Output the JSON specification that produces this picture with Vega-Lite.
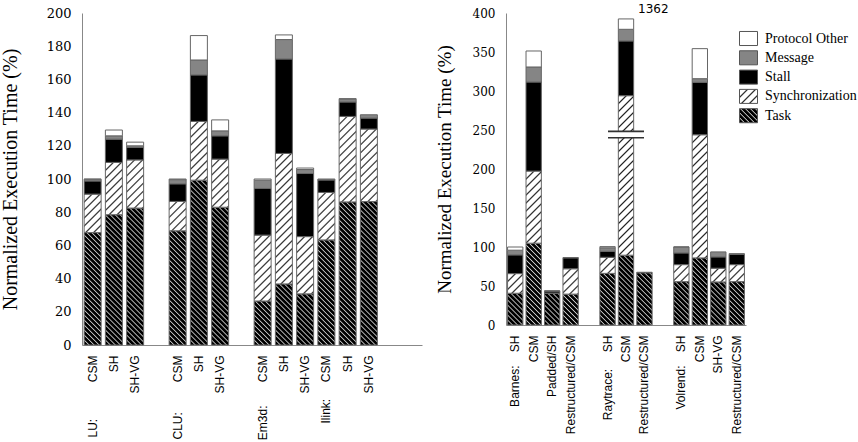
{
  "$schema": "https://vega.github.io/schema/vega-lite/v6.json",
  "padding": {"left": 0, "top": 2, "right": 0, "bottom": 0},
  "config": {
    "view": {"stroke": null},
    "axis": {"domainColor": "#888888", "domainWidth": 1, "ticks": false, "grid": false, "labelOverlap": false, "labelColor": "#000000", "titleColor": "#000000", "titleFontWeight": "normal"}
  },
  "params": [
    {"name": "taskStops", "value": [
      {"offset":0,"color":"#ccc"},{"offset":0.006,"color":"#000"},{"offset":0.019,"color":"#000"},
      {"offset":0.025,"color":"#ccc"},{"offset":0.031,"color":"#000"},{"offset":0.044,"color":"#000"},
      {"offset":0.05,"color":"#ccc"},{"offset":0.056,"color":"#000"},{"offset":0.069,"color":"#000"},
      {"offset":0.075,"color":"#ccc"},{"offset":0.081,"color":"#000"},{"offset":0.094,"color":"#000"},
      {"offset":0.1,"color":"#ccc"},{"offset":0.106,"color":"#000"},{"offset":0.119,"color":"#000"},
      {"offset":0.125,"color":"#ccc"},{"offset":0.131,"color":"#000"},{"offset":0.144,"color":"#000"},
      {"offset":0.15,"color":"#ccc"},{"offset":0.156,"color":"#000"},{"offset":0.169,"color":"#000"},
      {"offset":0.175,"color":"#ccc"},{"offset":0.181,"color":"#000"},{"offset":0.194,"color":"#000"},
      {"offset":0.2,"color":"#ccc"},{"offset":0.206,"color":"#000"},{"offset":0.219,"color":"#000"},
      {"offset":0.225,"color":"#ccc"},{"offset":0.231,"color":"#000"},{"offset":0.244,"color":"#000"},
      {"offset":0.25,"color":"#ccc"},{"offset":0.256,"color":"#000"},{"offset":0.269,"color":"#000"},
      {"offset":0.275,"color":"#ccc"},{"offset":0.281,"color":"#000"},{"offset":0.294,"color":"#000"},
      {"offset":0.3,"color":"#ccc"},{"offset":0.306,"color":"#000"},{"offset":0.319,"color":"#000"},
      {"offset":0.325,"color":"#ccc"},{"offset":0.331,"color":"#000"},{"offset":0.344,"color":"#000"},
      {"offset":0.35,"color":"#ccc"},{"offset":0.356,"color":"#000"},{"offset":0.369,"color":"#000"},
      {"offset":0.375,"color":"#ccc"},{"offset":0.381,"color":"#000"},{"offset":0.394,"color":"#000"},
      {"offset":0.4,"color":"#ccc"},{"offset":0.406,"color":"#000"},{"offset":0.419,"color":"#000"},
      {"offset":0.425,"color":"#ccc"},{"offset":0.431,"color":"#000"},{"offset":0.444,"color":"#000"},
      {"offset":0.45,"color":"#ccc"},{"offset":0.456,"color":"#000"},{"offset":0.469,"color":"#000"},
      {"offset":0.475,"color":"#ccc"},{"offset":0.481,"color":"#000"},{"offset":0.494,"color":"#000"},
      {"offset":0.5,"color":"#ccc"},{"offset":0.506,"color":"#000"},{"offset":0.519,"color":"#000"},
      {"offset":0.525,"color":"#ccc"},{"offset":0.531,"color":"#000"},{"offset":0.544,"color":"#000"},
      {"offset":0.55,"color":"#ccc"},{"offset":0.556,"color":"#000"},{"offset":0.569,"color":"#000"},
      {"offset":0.575,"color":"#ccc"},{"offset":0.581,"color":"#000"},{"offset":0.594,"color":"#000"},
      {"offset":0.6,"color":"#ccc"},{"offset":0.606,"color":"#000"},{"offset":0.619,"color":"#000"},
      {"offset":0.625,"color":"#ccc"},{"offset":0.631,"color":"#000"},{"offset":0.644,"color":"#000"},
      {"offset":0.65,"color":"#ccc"},{"offset":0.656,"color":"#000"},{"offset":0.669,"color":"#000"},
      {"offset":0.675,"color":"#ccc"},{"offset":0.681,"color":"#000"},{"offset":0.694,"color":"#000"},
      {"offset":0.7,"color":"#ccc"},{"offset":0.706,"color":"#000"},{"offset":0.719,"color":"#000"},
      {"offset":0.725,"color":"#ccc"},{"offset":0.731,"color":"#000"},{"offset":0.744,"color":"#000"},
      {"offset":0.75,"color":"#ccc"},{"offset":0.756,"color":"#000"},{"offset":0.769,"color":"#000"},
      {"offset":0.775,"color":"#ccc"},{"offset":0.781,"color":"#000"},{"offset":0.794,"color":"#000"},
      {"offset":0.8,"color":"#ccc"},{"offset":0.806,"color":"#000"},{"offset":0.819,"color":"#000"},
      {"offset":0.825,"color":"#ccc"},{"offset":0.831,"color":"#000"},{"offset":0.844,"color":"#000"},
      {"offset":0.85,"color":"#ccc"},{"offset":0.856,"color":"#000"},{"offset":0.869,"color":"#000"},
      {"offset":0.875,"color":"#ccc"},{"offset":0.881,"color":"#000"},{"offset":0.894,"color":"#000"},
      {"offset":0.9,"color":"#ccc"},{"offset":0.906,"color":"#000"},{"offset":0.919,"color":"#000"},
      {"offset":0.925,"color":"#ccc"},{"offset":0.931,"color":"#000"},{"offset":0.944,"color":"#000"},
      {"offset":0.95,"color":"#ccc"},{"offset":0.956,"color":"#000"},{"offset":0.969,"color":"#000"},
      {"offset":0.975,"color":"#ccc"},{"offset":0.981,"color":"#000"},{"offset":0.994,"color":"#000"},
      {"offset":1,"color":"#ccc"}
    ]},
    {"name": "syncStops", "value": [
      {"offset":0,"color":"#222"},{"offset":0.008,"color":"#fff"},{"offset":0.032,"color":"#fff"},
      {"offset":0.04,"color":"#222"},{"offset":0.048,"color":"#fff"},{"offset":0.072,"color":"#fff"},
      {"offset":0.08,"color":"#222"},{"offset":0.088,"color":"#fff"},{"offset":0.112,"color":"#fff"},
      {"offset":0.12,"color":"#222"},{"offset":0.128,"color":"#fff"},{"offset":0.152,"color":"#fff"},
      {"offset":0.16,"color":"#222"},{"offset":0.168,"color":"#fff"},{"offset":0.192,"color":"#fff"},
      {"offset":0.2,"color":"#222"},{"offset":0.208,"color":"#fff"},{"offset":0.232,"color":"#fff"},
      {"offset":0.24,"color":"#222"},{"offset":0.248,"color":"#fff"},{"offset":0.272,"color":"#fff"},
      {"offset":0.28,"color":"#222"},{"offset":0.288,"color":"#fff"},{"offset":0.312,"color":"#fff"},
      {"offset":0.32,"color":"#222"},{"offset":0.328,"color":"#fff"},{"offset":0.352,"color":"#fff"},
      {"offset":0.36,"color":"#222"},{"offset":0.368,"color":"#fff"},{"offset":0.392,"color":"#fff"},
      {"offset":0.4,"color":"#222"},{"offset":0.408,"color":"#fff"},{"offset":0.432,"color":"#fff"},
      {"offset":0.44,"color":"#222"},{"offset":0.448,"color":"#fff"},{"offset":0.472,"color":"#fff"},
      {"offset":0.48,"color":"#222"},{"offset":0.488,"color":"#fff"},{"offset":0.512,"color":"#fff"},
      {"offset":0.52,"color":"#222"},{"offset":0.528,"color":"#fff"},{"offset":0.552,"color":"#fff"},
      {"offset":0.56,"color":"#222"},{"offset":0.568,"color":"#fff"},{"offset":0.592,"color":"#fff"},
      {"offset":0.6,"color":"#222"},{"offset":0.608,"color":"#fff"},{"offset":0.632,"color":"#fff"},
      {"offset":0.64,"color":"#222"},{"offset":0.648,"color":"#fff"},{"offset":0.672,"color":"#fff"},
      {"offset":0.68,"color":"#222"},{"offset":0.688,"color":"#fff"},{"offset":0.712,"color":"#fff"},
      {"offset":0.72,"color":"#222"},{"offset":0.728,"color":"#fff"},{"offset":0.752,"color":"#fff"},
      {"offset":0.76,"color":"#222"},{"offset":0.768,"color":"#fff"},{"offset":0.792,"color":"#fff"},
      {"offset":0.8,"color":"#222"},{"offset":0.808,"color":"#fff"},{"offset":0.832,"color":"#fff"},
      {"offset":0.84,"color":"#222"},{"offset":0.848,"color":"#fff"},{"offset":0.872,"color":"#fff"},
      {"offset":0.88,"color":"#222"},{"offset":0.888,"color":"#fff"},{"offset":0.912,"color":"#fff"},
      {"offset":0.92,"color":"#222"},{"offset":0.928,"color":"#fff"},{"offset":0.952,"color":"#fff"},
      {"offset":0.96,"color":"#222"},{"offset":0.968,"color":"#fff"},{"offset":0.992,"color":"#fff"},
      {"offset":1,"color":"#222"}
    ]}
  ],
  "datasets": {
    "runsLeft": [
      {"key": "LU|LU:\u00a0\u00a0\u00a0\u00a0\u00a0\u00a0\u00a0\u00a0\u00a0\u00a0\u00a0CSM", "Task": 67.7, "Synchronization": 23.2, "Stall": 7.9, "Message": 1.0, "Protocol Other": 0.2},
      {"key": "LU|SH", "Task": 78.5, "Synchronization": 31.5, "Stall": 14.0, "Message": 2.0, "Protocol Other": 3.5},
      {"key": "LU|SH-VG", "Task": 82.5, "Synchronization": 29.0, "Stall": 7.5, "Message": 1.0, "Protocol Other": 2.2},
      {"key": "CLU|CLU:\u00a0\u00a0\u00a0\u00a0\u00a0\u00a0\u00a0\u00a0\u00a0CSM", "Task": 68.8, "Synchronization": 17.7, "Stall": 10.6, "Message": 2.5, "Protocol Other": 0.4},
      {"key": "CLU|SH", "Task": 99.3, "Synchronization": 35.4, "Stall": 28.0, "Message": 9.0, "Protocol Other": 14.7},
      {"key": "CLU|SH-VG", "Task": 83.0, "Synchronization": 29.0, "Stall": 14.0, "Message": 3.0, "Protocol Other": 6.6},
      {"key": "Em3d|Em3d:\u00a0\u00a0\u00a0\u00a0\u00a0\u00a0\u00a0CSM", "Task": 26.5, "Synchronization": 39.7, "Stall": 28.1, "Message": 5.0, "Protocol Other": 0.7},
      {"key": "Em3d|SH", "Task": 36.8, "Synchronization": 78.6, "Stall": 56.9, "Message": 11.7, "Protocol Other": 2.8},
      {"key": "Em3d|SH-VG", "Task": 30.8, "Synchronization": 34.5, "Stall": 38.0, "Message": 2.4, "Protocol Other": 0.9},
      {"key": "Ilink|Ilink:\u00a0\u00a0\u00a0\u00a0\u00a0CSM", "Task": 63.3, "Synchronization": 28.6, "Stall": 7.5, "Message": 0.6, "Protocol Other": 0},
      {"key": "Ilink|SH", "Task": 86.2, "Synchronization": 51.5, "Stall": 8.7, "Message": 1.7, "Protocol Other": 0.3},
      {"key": "Ilink|SH-VG", "Task": 86.4, "Synchronization": 43.7, "Stall": 6.6, "Message": 2.0, "Protocol Other": 0}
    ],
    "runsRight": [
      {"key": "Barnes|Barnes:\u00a0\u00a0\u00a0\u00a0SH", "Task": 40.7, "Synchronization": 25.2, "Stall": 24.0, "Message": 6.0, "Protocol Other": 4.1},
      {"key": "Barnes|CSM", "Task": 104.9, "Synchronization": 92.4, "Stall": 114.2, "Message": 19.3, "Protocol Other": 20.5},
      {"key": "Barnes|Padded/SH", "Task": 40.5, "Synchronization": 0.5, "Stall": 2.5, "Message": 0.3, "Protocol Other": 0},
      {"key": "Barnes|Restructured/CSM", "Task": 39.6, "Synchronization": 32.5, "Stall": 14.0, "Message": 0.3, "Protocol Other": 0},
      {"key": "Raytrace|Raytrace:\u00a0\u00a0\u00a0\u00a0\u00a0SH", "Task": 66.2, "Synchronization": 20.6, "Stall": 7.7, "Message": 4.5, "Protocol Other": 1.5},
      {"key": "Raytrace|CSM", "Task": 89.5, "Synchronization": 204.5, "Stall": 70.2, "Message": 14.9, "Protocol Other": 13.3, "Total": 1362},
      {"key": "Raytrace|Restructured/CSM", "Task": 67.0, "Synchronization": 0, "Stall": 0.6, "Message": 0, "Protocol Other": 0},
      {"key": "Volrend|Volrend:\u00a0\u00a0\u00a0\u00a0SH", "Task": 55.6, "Synchronization": 21.8, "Stall": 15.0, "Message": 7.5, "Protocol Other": 0.2},
      {"key": "Volrend|CSM", "Task": 86.0, "Synchronization": 157.9, "Stall": 67.2, "Message": 4.7, "Protocol Other": 38.5},
      {"key": "Volrend|SH-VG", "Task": 55.2, "Synchronization": 17.6, "Stall": 14.5, "Message": 6.4, "Protocol Other": 0},
      {"key": "Volrend|Restructured/CSM", "Task": 55.6, "Synchronization": 21.8, "Stall": 13.0, "Message": 1.1, "Protocol Other": 0}
    ],
    "breaks": [
      {"key": "Raytrace|CSM", "lo": 240.1, "hi": 248.2}
    ]
  },
  "resolve": {"legend": {"fill": "independent"}},
  "spacing": 13,
  "hconcat": [
    {
      "width": 340,
      "height": 332,
      "data": {"name": "runsLeft"},
      "transform": [
        {"fold": ["Task", "Synchronization", "Stall", "Message", "Protocol Other"], "as": ["part", "value"]},
        {"filter": "datum.value > 0"},
        {"stack": "value", "groupby": ["key"], "as": ["v0", "v1"]}
      ],
      "mark": {
        "type": "bar",
        "stroke": "#666666",
        "strokeWidth": 1,
        "fill": {"expr": "datum.part === 'Task' ? {gradient: 'linear', x1: 0, y1: 1, x2: 3400 / (289 + pow(datum.value * 1.66, 2)), y2: 1 - 200 * datum.value * 1.66 / (289 + pow(datum.value * 1.66, 2)), stops: taskStops} : datum.part === 'Synchronization' ? {gradient: 'linear', x1: 0, y1: 0, x2: 3400 / (289 + pow(datum.value * 1.66, 2)), y2: 200 * datum.value * 1.66 / (289 + pow(datum.value * 1.66, 2)), stops: syncStops} : datum.part === 'Stall' ? '#000000' : datum.part === 'Message' ? '#858585' : '#ffffff'"}
      },
      "encoding": {
        "x": {
          "field": "key", "type": "nominal", "sort": null,
          "scale": {
            "domain": ["LU|LU:\u00a0\u00a0\u00a0\u00a0\u00a0\u00a0\u00a0\u00a0\u00a0\u00a0\u00a0CSM", "LU|SH", "LU|SH-VG", "gap1|", "CLU|CLU:\u00a0\u00a0\u00a0\u00a0\u00a0\u00a0\u00a0\u00a0\u00a0CSM", "CLU|SH", "CLU|SH-VG", "gap2|", "Em3d|Em3d:\u00a0\u00a0\u00a0\u00a0\u00a0\u00a0\u00a0CSM", "Em3d|SH", "Em3d|SH-VG", "Ilink|Ilink:\u00a0\u00a0\u00a0\u00a0\u00a0CSM", "Ilink|SH", "Ilink|SH-VG", "gap3|", "gap4|"],
            "paddingInner": 0.2, "paddingOuter": 0.1
          },
          "axis": {"title": null, "labelAngle": -90, "labelFont": "Liberation Sans", "labelFontSize": 12, "labelPadding": 10, "labelExpr": "substring(datum.value, indexof(datum.value, '|') + 1)"}
        },
        "y": {
          "field": "v1", "type": "quantitative",
          "scale": {"domain": [0, 200], "nice": false},
          "axis": {"title": "Normalized Execution Time (%)", "titleFont": "Liberation Serif", "titleFontSize": 20, "titlePadding": 26, "labelFont": "DejaVu Serif", "labelFontSize": 13, "labelPadding": 11, "values": [0, 20, 40, 60, 80, 100, 120, 140, 160, 180, 200]}
        },
        "y2": {"field": "v0"}
      }
    },
    {
      "width": 240,
      "height": 312,
      "resolve": {"legend": {"fill": "independent"}},
      "layer": [
        {
          "data": {"name": "runsRight"},
          "transform": [
            {"fold": ["Task", "Synchronization", "Stall", "Message", "Protocol Other"], "as": ["part", "value"]},
            {"filter": "datum.value > 0"},
            {"stack": "value", "groupby": ["key"], "as": ["v0", "v1"]}
          ],
          "mark": {
            "type": "bar",
            "stroke": "#666666",
            "strokeWidth": 1,
            "fill": {"expr": "datum.part === 'Task' ? {gradient: 'linear', x1: 0, y1: 1, x2: 3064 / (234.7 + pow(datum.value * 0.78, 2)), y2: 1 - 200 * datum.value * 0.78 / (234.7 + pow(datum.value * 0.78, 2)), stops: taskStops} : datum.part === 'Synchronization' ? {gradient: 'linear', x1: 0, y1: 0, x2: 3064 / (234.7 + pow(datum.value * 0.78, 2)), y2: 200 * datum.value * 0.78 / (234.7 + pow(datum.value * 0.78, 2)), stops: syncStops} : datum.part === 'Stall' ? '#000000' : datum.part === 'Message' ? '#858585' : '#ffffff'"}
          },
          "encoding": {
            "x": {
              "field": "key", "type": "nominal", "sort": null,
              "scale": {
                "domain": ["Barnes|Barnes:\u00a0\u00a0\u00a0\u00a0SH", "Barnes|CSM", "Barnes|Padded/SH", "Barnes|Restructured/CSM", "gap1|", "Raytrace|Raytrace:\u00a0\u00a0\u00a0\u00a0\u00a0SH", "Raytrace|CSM", "Raytrace|Restructured/CSM", "gap2|", "Volrend|Volrend:\u00a0\u00a0\u00a0\u00a0SH", "Volrend|CSM", "Volrend|SH-VG", "Volrend|Restructured/CSM"],
                "paddingInner": 0.17, "paddingOuter": 0.085
              },
              "axis": {"title": null, "labelAngle": -90, "labelFont": "Liberation Sans", "labelFontSize": 12, "labelPadding": 10, "labelExpr": "substring(datum.value, indexof(datum.value, '|') + 1)"}
            },
            "y": {
              "field": "v1", "type": "quantitative",
              "scale": {"domain": [0, 400], "nice": false},
              "axis": {"title": "Normalized Execution Time (%)", "titleFont": "Liberation Serif", "titleFontSize": 19, "titlePadding": 18, "labelFont": "DejaVu Serif", "labelFontSize": 12, "labelPadding": 11, "tickCount": 9, "values": [0, 50, 100, 150, 200, 250, 300, 350, 400]}
            },
            "y2": {"field": "v0"}
          }
        },
        {
          "data": {"name": "breaks"},
          "mark": {"type": "bar", "width": 36, "fill": "#ffffff", "stroke": null},
          "encoding": {
            "x": {"field": "key", "type": "nominal", "axis": {"title": null}},
            "y": {"field": "lo", "type": "quantitative", "axis": {"title": "Normalized Execution Time (%)", "values": [0, 50, 100, 150, 200, 250, 300, 350, 400]}},
            "y2": {"field": "hi"}
          }
        },
        {
          "data": {"name": "breaks"},
          "mark": {"type": "tick", "size": 36, "thickness": 1.6, "color": "#333333", "opacity": 1},
          "encoding": {
            "x": {"field": "key", "type": "nominal", "axis": {"title": null}},
            "y": {"field": "lo", "type": "quantitative", "axis": {"title": "Normalized Execution Time (%)", "values": [0, 50, 100, 150, 200, 250, 300, 350, 400]}}
          }
        },
        {
          "data": {"name": "breaks"},
          "mark": {"type": "tick", "size": 36, "thickness": 1.6, "color": "#333333", "opacity": 1},
          "encoding": {
            "x": {"field": "key", "type": "nominal", "axis": {"title": null}},
            "y": {"field": "hi", "type": "quantitative", "axis": {"title": "Normalized Execution Time (%)", "values": [0, 50, 100, 150, 200, 250, 300, 350, 400]}}
          }
        },
        {
          "data": {"name": "runsRight"},
          "transform": [
            {"filter": "isValid(datum.Total)"},
            {"fold": ["Task", "Synchronization", "Stall", "Message", "Protocol Other"], "as": ["part", "value"]},
            {"aggregate": [{"op": "sum", "field": "value", "as": "top"}], "groupby": ["key", "Total"]}
          ],
          "mark": {"type": "text", "align": "left", "baseline": "bottom", "dx": 12, "dy": -3, "font": "DejaVu Sans", "fontSize": 12, "color": "#000000"},
          "encoding": {
            "x": {"field": "key", "type": "nominal", "axis": {"title": null}},
            "y": {"field": "top", "type": "quantitative", "axis": {"title": "Normalized Execution Time (%)", "values": [0, 50, 100, 150, 200, 250, 300, 350, 400]}},
            "text": {"field": "Total", "type": "nominal"}
          }
        },
        {
          "data": {"values": []},
          "mark": {"type": "rect", "stroke": "#555555", "strokeWidth": 1},
          "encoding": {
            "fill": {
              "field": "part", "type": "nominal",
              "scale": {
                "domain": ["Protocol Other", "Message", "Stall", "Synchronization", "Task"],
                "range": [
                  "#ffffff",
                  "#858585",
                  "#000000",
                  {"expr": "{gradient: 'linear', x1: 0, y1: 0, x2: 6.92, y2: 5.38, stops: syncStops}"},
                  {"expr": "{gradient: 'linear', x1: 0, y1: 1, x2: 6.92, y2: -4.38, stops: taskStops}"}
                ]
              },
              "legend": {
                "title": null, "orient": "none", "legendX": 233, "legendY": 16, "padding": 0,
                "symbolType": "M-1,-0.78H1V0.78H-1Z", "symbolSize": 324,
                "symbolStrokeColor": "#555555", "symbolStrokeWidth": 1, "symbolOpacity": 1,
                "labelFont": "Liberation Serif", "labelFontSize": 14, "labelColor": "#000000",
                "labelOffset": 7, "rowPadding": 0.3, "labelLimit": 200
              }
            }
          }
        }
      ]
    }
  ]
}
